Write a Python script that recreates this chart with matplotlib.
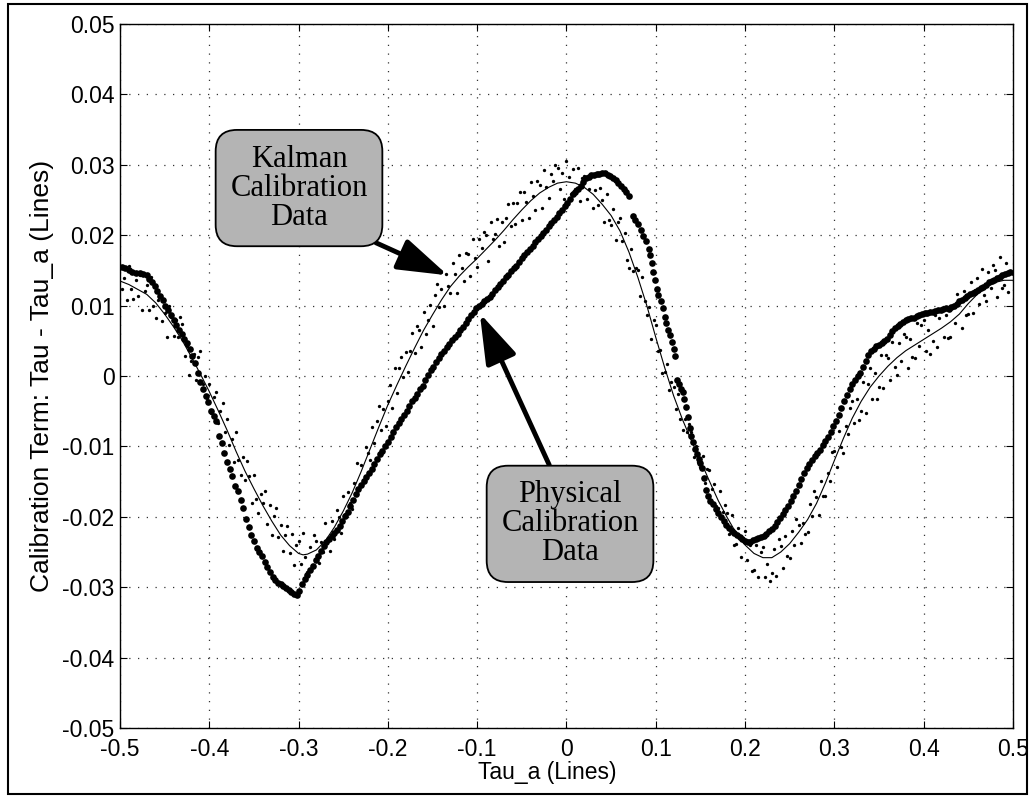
import numpy as np
import matplotlib
matplotlib.use('Agg')
import matplotlib.pyplot as plt
from matplotlib.patches import Rectangle

plt.rcParams['font.family'] = ['Liberation Sans', 'DejaVu Sans']

# physical calibration data (thick dots), y in 1e-3 lines
phys_x = [-0.498, -0.494, -0.490, -0.486, -0.482, -0.478, -0.474, -0.470, -0.467, -0.464,
          -0.461, -0.458, -0.455, -0.452, -0.449, -0.446, -0.443, -0.440, -0.437, -0.434,
          -0.431, -0.428, -0.425, -0.422, -0.419, -0.416, -0.413, -0.410, -0.407, -0.404,
          -0.401, -0.398, -0.395, -0.392, -0.389, -0.386, -0.383, -0.380, -0.377, -0.374,
          -0.371, -0.368, -0.365, -0.362, -0.359, -0.356, -0.353, -0.350, -0.347, -0.344,
          -0.341, -0.338, -0.335, -0.332, -0.329, -0.326, -0.323, -0.320, -0.317, -0.314,
          -0.311, -0.308, -0.305, -0.302, -0.299, -0.296, -0.293, -0.290, -0.287, -0.284,
          -0.281, -0.278, -0.275, -0.272, -0.269, -0.266, -0.263, -0.260, -0.257, -0.254,
          -0.251, -0.248, -0.245, -0.242, -0.239, -0.236, -0.233, -0.230, -0.227, -0.224,
          -0.221, -0.218, -0.215, -0.212, -0.209, -0.206, -0.203, -0.200, -0.197, -0.194,
          -0.191, -0.188, -0.185, -0.182, -0.179, -0.176, -0.173, -0.170, -0.167, -0.164,
          -0.161, -0.158, -0.155, -0.152, -0.149, -0.146, -0.143, -0.140, -0.137, -0.134,
          -0.131, -0.128, -0.125, -0.122, -0.119, -0.116, -0.113, -0.110, -0.107, -0.104,
          -0.101, -0.098, -0.095, -0.092, -0.089, -0.086, -0.083, -0.080, -0.077, -0.074,
          -0.071, -0.068, -0.065, -0.062, -0.059, -0.056, -0.053, -0.050, -0.047, -0.044,
          -0.041, -0.038, -0.035, -0.032, -0.029, -0.026, -0.023, -0.020, -0.017, -0.014,
          -0.011, -0.008, -0.005, -0.002, 0.001, 0.004, 0.007, 0.010, 0.013, 0.016,
          0.019, 0.022, 0.025, 0.028, 0.031, 0.034, 0.037, 0.040, 0.043, 0.046,
          0.049, 0.052, 0.055, 0.058, 0.061, 0.064, 0.067, 0.070, 0.075, 0.077,
          0.080, 0.083, 0.086, 0.089, 0.092, 0.094, 0.096, 0.097, 0.099, 0.101,
          0.103, 0.106, 0.108, 0.110, 0.112, 0.114, 0.116, 0.118, 0.120, 0.122,
          0.124, 0.126, 0.128, 0.130, 0.132, 0.134, 0.136, 0.138, 0.140, 0.142,
          0.144, 0.146, 0.148, 0.150, 0.152, 0.154, 0.156, 0.158, 0.161, 0.164,
          0.167, 0.170, 0.173, 0.176, 0.179, 0.182, 0.185, 0.188, 0.191, 0.194,
          0.197, 0.200, 0.203, 0.206, 0.209, 0.212, 0.215, 0.218, 0.221, 0.224,
          0.227, 0.230, 0.233, 0.236, 0.239, 0.242, 0.245, 0.248, 0.251, 0.254,
          0.257, 0.260, 0.263, 0.266, 0.269, 0.272, 0.275, 0.278, 0.281, 0.284,
          0.287, 0.290, 0.293, 0.296, 0.299, 0.302, 0.305, 0.308, 0.311, 0.314,
          0.317, 0.320, 0.323, 0.326, 0.329, 0.332, 0.335, 0.338, 0.341, 0.344,
          0.347, 0.350, 0.353, 0.356, 0.359, 0.362, 0.365, 0.368, 0.371, 0.374,
          0.377, 0.380, 0.383, 0.386, 0.389, 0.392, 0.395, 0.398, 0.401, 0.404,
          0.407, 0.410, 0.413, 0.416, 0.419, 0.422, 0.425, 0.428, 0.431, 0.434,
          0.437, 0.440, 0.443, 0.446, 0.449, 0.452, 0.455, 0.458, 0.461, 0.464,
          0.467, 0.470, 0.473, 0.476, 0.479, 0.482, 0.485, 0.488, 0.491, 0.494,
          0.497]
phys_y = [15.5, 15.3, 15.0, 14.8, 14.6, 14.7, 14.5, 14.3, 13.8, 13.3,
          12.8, 12.1, 11.4, 10.8, 10.0, 9.4, 8.7, 8.0, 7.2, 6.6,
          5.9, 5.3, 4.7, 3.8, 2.8, 1.8, 0.4, -0.8, -1.8, -2.9,
          -3.7, -4.9, -5.7, -6.4, -8.5, -9.5, -11.0, -12.2, -13.2, -14.2,
          -15.6, -16.4, -17.6, -18.8, -20.3, -21.4, -22.6, -23.5, -24.4, -25.0,
          -25.6, -26.4, -27.1, -27.8, -28.5, -29.0, -29.4, -29.6, -29.8, -30.1,
          -30.4, -30.7, -30.9, -31.1, -30.5, -29.6, -28.9, -28.2, -27.6, -27.0,
          -26.2, -25.6, -24.9, -24.2, -23.6, -23.1, -22.7, -22.3, -21.9, -21.3,
          -20.6, -19.9, -19.3, -18.5, -17.6, -16.8, -16.1, -15.5, -14.9, -14.3,
          -13.8, -13.2, -12.5, -11.8, -11.1, -10.6, -10.0, -9.4, -8.6, -7.9,
          -7.2, -6.7, -6.1, -5.5, -4.9, -4.3, -3.6, -3.1, -2.5, -1.9,
          -1.4, -0.6, 0.2, 0.8, 1.3, 2.0, 2.6, 3.1, 3.6, 4.1,
          4.6, 5.1, 5.5, 6.0, 6.5, 7.0, 7.6, 8.1, 8.6, 9.1,
          9.6, 10.0, 10.3, 10.6, 10.9, 11.2, 11.7, 12.2, 12.6, 13.1,
          13.5, 14.0, 14.4, 14.9, 15.3, 15.7, 16.2, 16.7, 17.2, 17.6,
          18.0, 18.5, 19.0, 19.5, 19.9, 20.3, 20.8, 21.3, 21.8, 22.2,
          22.6, 23.1, 23.6, 24.1, 24.6, 25.2, 25.8, 26.2, 26.6, 27.0,
          27.6, 28.1, 28.3, 28.5, 28.6, 28.7, 28.7, 28.8, 28.8, 28.6,
          28.4, 28.1, 27.8, 27.4, 27.0, 26.6, 26.2, 25.6, 22.8, 22.2,
          21.6, 20.7, 19.9, 19.2, 18.1, 17.2, 16.0, 14.8, 13.6, 12.4,
          11.5, 10.6, 9.6, 8.4, 7.5, 6.6, 5.8, 4.9, 3.8, 2.8,
          -0.5, -1.2, -1.8, -2.3, -3.2, -4.4, -5.8, -7.4, -8.5, -9.4,
          -10.4, -11.1, -11.8, -12.4, -13.0, -14.5, -16.2, -17.1, -17.7, -18.2,
          -18.9, -19.5, -20.0, -20.6, -21.1, -21.6, -22.0, -22.3, -22.6, -22.9,
          -23.2, -23.4, -23.6, -23.6, -23.3, -23.1, -23.0, -22.9, -22.7, -22.4,
          -22.0, -21.7, -21.3, -20.7, -20.1, -19.6, -19.0, -18.4, -17.8, -17.1,
          -16.4, -15.5, -14.6, -13.8, -13.1, -12.5, -11.9, -11.4, -11.0, -10.5,
          -9.8, -9.2, -8.6, -7.9, -7.1, -6.4, -5.5, -4.5, -3.5, -2.7,
          -1.9, -1.1, -0.5, 0.0, 0.5, 1.3, 2.2, 3.0, 3.5, 3.9,
          4.2, 4.4, 4.7, 5.0, 5.2, 5.8, 6.4, 6.8, 7.1, 7.4,
          7.7, 7.9, 8.1, 8.2, 8.3, 8.5, 8.7, 8.8, 8.9, 9.0,
          9.1, 9.1, 9.3, 9.4, 9.4, 9.5, 9.6, 9.5, 9.8, 10.0,
          10.3, 10.6, 10.8, 11.1, 11.3, 11.6, 11.8, 12.0, 12.2, 12.5,
          12.7, 13.0, 13.3, 13.5, 13.7, 13.9, 14.1, 14.3, 14.5, 14.7,
          14.8]

# kalman calibration samples (small dots), one every 0.0025 lines, y in 1e-3
kalman_y = [15.4, 12.3, 13.9, 10.8, 15.6, 12.4, 11.0, 13.7, 11.4, 14.3, 9.4, 12.1,
            13.0, 9.4, 14.0, 10.0, 8.3, 10.8, 11.3, 7.8, 9.0, 5.6, 10.0, 8.4,
            5.7, 8.0, 5.5, 8.4, 7.4, 2.8, 4.3, 0.2, 2.1, 3.2, -0.5, 2.7,
            3.5, -1.2, 0.05, -3.1, -1.1, -5.3, -3.0, -2.2, -6.7, -4.9, -3.8, -7.9,
            -6.1, -9.75, -9.0, -12.15, -7.9, -11.9, -14.0, -11.5, -14.7, -12.0, -14.15, -18.0,
            -14.1, -17.4, -19.5, -16.8, -18.0, -16.35, -21.0, -18.25, -22.6, -19.9, -18.7, -22.8,
            -21.1, -24.8, -22.55, -21.3, -25.1, -22.4, -26.85, -24.0, -23.5, -26.65, -22.25, -25.7,
            -27.9, -24.25, -26.8, -22.65, -23.5, -26.5, -23.55, -25.0, -20.9, -23.5, -24.85, -20.55,
            -23.2, -19.1, -20.05, -22.3, -17.0, -19.55, -16.5, -18.05, -18.9, -15.25, -12.4, -15.95,
            -12.6, -14.8, -10.1, -11.0, -11.9, -7.2, -9.5, -6.4, -4.3, -7.65, -4.75, -7.1,
            -3.6, -1.3, -4.5, 1.1, -2.4, 1.1, 2.65, -0.2, 3.4, 0.55, 3.5, 6.15,
            3.3, 7.1, 6.55, 4.1, 9.1, 5.95, 8.0, 10.05, 7.1, 11.45, 13.05, 9.8,
            12.3, 10.0, 14.45, 12.8, 11.8, 16.0, 14.55, 11.85, 17.2, 15.35, 13.45, 17.5,
            17.3, 14.2, 19.5, 16.7, 15.5, 19.4, 18.25, 20.5, 20.1, 16.4, 21.85, 19.4,
            20.2, 22.35, 18.5, 21.95, 19.0, 22.4, 24.45, 21.25, 24.6, 21.55, 24.6, 26.15,
            22.2, 26.1, 24.75, 22.5, 27.5, 25.6, 23.65, 27.65, 27.1, 23.9, 29.3, 26.8,
            25.3, 28.75, 27.7, 29.95, 29.6, 26.55, 28.9, 25.15, 30.6, 28.25, 25.9, 29.45,
            26.6, 29.55, 24.9, 28.15, 28.4, 25.15, 26.6, 28.55, 23.8, 26.45, 24.3, 26.65,
            25.0, 21.9, 25.8, 22.2, 21.5, 23.75, 19.3, 21.95, 22.5, 19.25, 20.3, 16.55,
            15.4, 18.1, 14.9, 15.4, 15.0, 11.3, 14.1, 10.6, 8.6, 9.8, 5.25, 7.9,
            7.2, 3.6, 3.65, 0.4, 0.6, 1.7, -2.0, -0.9, -1.5, -4.65, -2.5, -6.05,
            -7.7, -6.15, -8.0, -6.75, -8.0, -11.5, -10.0, -12.2, -12.9, -11.3, -15.25, -13.15,
            -13.3, -16.1, -15.4, -18.4, -18.8, -16.4, -19.3, -18.3, -19.4, -22.45, -19.7, -23.95,
            -23.9, -21.65, -25.65, -23.2, -22.0, -26.2, -24.0, -27.7, -27.6, -24.05, -28.6, -24.95,
            -24.3, -28.5, -26.7, -29.1, -28.0, -24.6, -28.4, -23.1, -24.2, -27.2, -22.7, -25.5,
            -25.9, -22.0, -24.0, -20.3, -21.1, -23.75, -20.9, -22.45, -22.2, -18.2, -19.85, -16.3,
            -17.2, -19.7, -14.85, -17.0, -17.1, -13.8, -14.9, -10.8, -10.6, -12.9, -7.85, -10.15,
            -10.9, -7.05, -8.25, -4.5, -3.5, -6.7, -3.2, -6.3, -5.0, -0.8, -5.2, -1.2,
            1.2, -3.2, 0.5, -3.3, -1.6, 2.95, -1.7, 2.95, 2.5, -0.5, 4.9, 1.3,
            0.1, 4.65, 2.2, 5.95, 5.6, 1.1, 5.2, 2.7, 2.5, 7.6, 4.2, 7.2,
            7.9, 3.6, 6.5, 3.2, 5.0, 8.6, 4.1, 8.2, 9.7, 5.5, 8.65, 5.45,
            5.5, 10.05, 7.55, 11.7, 10.5, 6.8, 12.05, 8.7, 8.8, 13.4, 8.95, 12.25,
            13.9, 10.25, 15.2, 11.55, 10.7, 14.8, 12.45, 15.75, 15.1, 11.2, 16.85, 12.45,
            13.0, 16.0, 11.9, 14.8, 14.5]
kalman_x = np.linspace(-0.5, 0.5, len(kalman_y))

# smoothed kalman curve (thin line), y in 1e-3
fit_x = [-0.50, -0.49, -0.48, -0.47, -0.46, -0.45, -0.44, -0.43, -0.42, -0.41,
         -0.40, -0.39, -0.38, -0.37, -0.36, -0.35, -0.34, -0.33, -0.32, -0.31,
         -0.30, -0.295, -0.29, -0.28, -0.27, -0.26, -0.25, -0.24, -0.23, -0.22,
         -0.21, -0.20, -0.19, -0.18, -0.17, -0.16, -0.15, -0.14, -0.13, -0.12,
         -0.11, -0.10, -0.09, -0.08, -0.07, -0.06, -0.05, -0.04, -0.03, -0.02,
         -0.01, 0.00, 0.01, 0.02, 0.03, 0.04, 0.05, 0.06, 0.07, 0.08,
         0.09, 0.10, 0.11, 0.12, 0.13, 0.14, 0.15, 0.16, 0.17, 0.18,
         0.19, 0.20, 0.21, 0.22, 0.23, 0.24, 0.25, 0.26, 0.27, 0.28,
         0.29, 0.30, 0.31, 0.32, 0.33, 0.34, 0.35, 0.36, 0.37, 0.38,
         0.39, 0.40, 0.41, 0.42, 0.43, 0.44, 0.45, 0.46, 0.47, 0.48,
         0.49, 0.50]
fit_y = [13.5, 13.0, 12.3, 11.6, 10.4, 8.8, 7.0, 5.0, 2.7, 0.3,
         -2.2, -4.9, -7.7, -10.7, -13.5, -16.0, -18.4, -20.6, -22.6, -24.1,
         -25.2, -25.4, -25.3, -24.7, -23.4, -21.5, -19.2, -16.6, -13.6, -10.4,
         -7.2, -4.1, -1.3, 1.4, 4.0, 6.5, 8.7, 10.8, 12.7, 14.2,
         15.5, 16.7, 18.0, 19.3, 20.7, 22.2, 23.6, 24.9, 26.0, 26.8,
         27.4, 27.6, 27.4, 26.8, 25.8, 24.4, 22.8, 20.6, 17.6, 14.0,
         10.0, 5.5, 1.2, -2.8, -6.2, -9.2, -12.0, -14.9, -17.7, -20.1,
         -22.3, -24.0, -25.2, -25.8, -25.8, -25.0, -23.8, -22.2, -20.4, -18.1,
         -15.2, -12.0, -8.9, -6.0, -3.6, -1.6, 0.0, 1.4, 2.6, 3.6,
         4.4, 5.2, 6.0, 6.8, 7.7, 8.8, 10.3, 11.6, 12.6, 13.3,
         13.6, 13.6]

x_ticks = [-0.5, -0.4, -0.3, -0.2, -0.1, 0, 0.1, 0.2, 0.3, 0.4, 0.5]
x_labels = ['-0.5', '-0.4', '-0.3', '-0.2', '-0.1', '0', '0.1', '0.2', '0.3', '0.4', '0.5']
y_ticks = [0.05, 0.04, 0.03, 0.02, 0.01, 0, -0.01, -0.02, -0.03, -0.04, -0.05]
y_labels = ['0.05', '0.04', '0.03', '0.02', '0.01', '0', '-0.01', '-0.02', '-0.03', '-0.04', '-0.05']

fig = plt.figure(figsize=(10.35, 7.96), dpi=100)
ax = fig.add_axes([0.1159, 0.0854, 0.8628, 0.8844])

ax.plot(kalman_x, np.array(kalman_y) / 1000, 'o', color='black', ms=2.4, mew=0)
ax.plot(fit_x, np.array(fit_y) / 1000, '-', color='black', lw=0.8)
ax.plot(phys_x, np.array(phys_y) / 1000, 'o', color='black', ms=4.8, mew=0)

ax.set_xlim(-0.5, 0.5)
ax.set_ylim(-0.05, 0.05)
ax.set_xticks(x_ticks)
ax.set_xticklabels(x_labels)
ax.set_yticks(y_ticks)
ax.set_yticklabels(y_labels)
ax.tick_params(direction='in', length=5, width=0.8, top=True, right=True,
               labelsize=16.5, colors='black')
ax.tick_params(axis='x', pad=7)
ax.tick_params(axis='y', pad=4)
ax.grid(True, linestyle=(0, (1, 6)), color='#333333', lw=0.9)
for s in ax.spines.values():
    s.set_linewidth(1.0)

ax.set_xlabel('Tau_a (Lines)', fontsize=16.5)
ax.xaxis.set_label_coords(0.478, -0.047)
ax.set_ylabel('Calibration Term: Tau - Tau_a (Lines)', fontsize=19, labelpad=6)

box = dict(boxstyle='round,pad=0.48,rounding_size=0.7', fc='#b4b4b4', ec='black', lw=1.3)
arrow = dict(arrowstyle='-|>,head_length=1.4,head_width=0.45', color='black', lw=3.5,
             shrinkA=0, shrinkB=0)

ax.annotate('Kalman\nCalibration\nData', xy=(-0.1327, 0.0143), xytext=(-0.2995, 0.0267),
            ha='center', va='center', fontsize=22, family='Liberation Serif',
            linespacing=1.0, bbox=box, arrowprops=dict(arrow, relpos=(0.88, 0.0)))
ax.annotate('Physical\nCalibration\nData', xy=(-0.097, 0.0089), xytext=(0.004, -0.021),
            ha='center', va='center', fontsize=22, family='Liberation Serif',
            linespacing=1.0, bbox=box, arrowprops=dict(arrow, relpos=(0.4, 1.0)))

fig.patches.append(Rectangle((0.0077, 0.0025), 0.9846, 0.9925, transform=fig.transFigure,
                             fill=False, ec='black', lw=1.5))

fig.savefig('out.png', dpi=100)
